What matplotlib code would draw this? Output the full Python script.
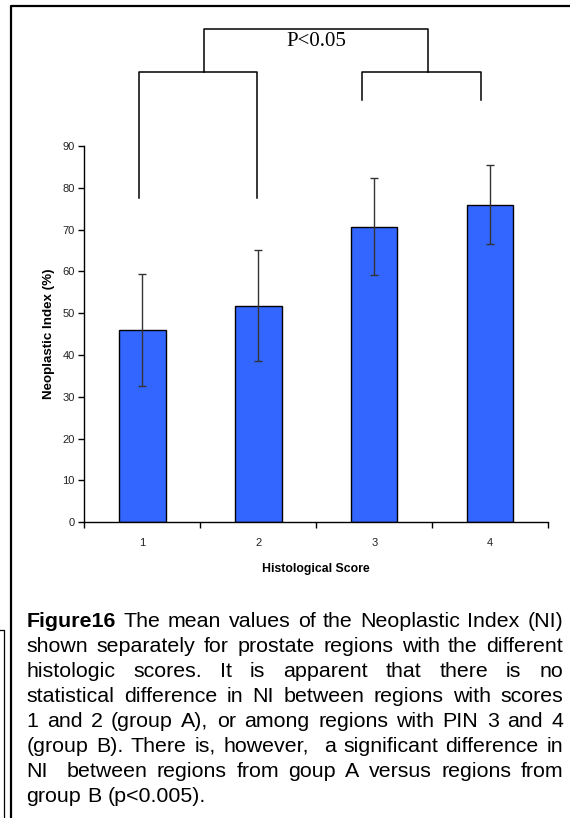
# Neoplastic Index bar chart with group brackets and caption (Figure16)
import numpy as np
import matplotlib.pyplot as plt

plt.rcParams['font.family'] = ['Liberation Sans', 'DejaVu Sans']

# data
scores = ['1', '2', '3', '4']
ni_mean = [46.0, 51.8, 70.7, 76.0]
ni_err = [13.3, 13.3, 11.6, 9.4]

# significance brackets (data units)
group_a = (0.97, 1.99)
group_b = (2.89, 3.92)
group_a_drop = 77.5
group_b_drop = 101.0
bracket_y = 107.8
top_bracket = (1.535, 3.46)
top_y = 117.9
p_label = 'P<0.05'

caption = [
    'Figure16 The mean values of the Neoplastic Index (NI)',
    'shown separately for prostate regions with the different',
    'histologic scores. It is apparent that there is no',
    'statistical difference in NI between regions with scores',
    '1 and 2 (group A), or among regions with PIN 3 and 4',
    '(group B). There is, however,  a significant difference in',
    'NI  between regions from goup A versus regions from',
    'group B (p<0.005).',
]

W, H = 570, 818
fig = plt.figure(figsize=(W / 100, H / 100), dpi=100)
fig.patch.set_facecolor('white')

ax = fig.add_axes([84.3 / W, 1 - 522.3 / H, 464 / W, 376.3 / H])
x = np.arange(1, len(scores) + 1)
ax.bar(x, ni_mean, width=0.4, color='#3366FF', edgecolor='black', linewidth=1.0, zorder=2)
ax.errorbar(x, ni_mean, yerr=ni_err, fmt='none', ecolor='#333333', elinewidth=1.0,
            capsize=2.8, capthick=1.0, zorder=3)

ax.set_xlim(0.5, len(scores) + 0.5)
ax.set_ylim(0, 90)
ax.set_yticks(np.arange(0, 91, 10))
ax.set_xticks(np.arange(0.5, len(scores) + 1, 1))
ax.set_xticklabels([])
ax.set_xticks(x, minor=True)
ax.set_xticklabels(scores, minor=True)
ax.tick_params(axis='x', which='minor', length=0, pad=11, labelsize=8, colors='#222222')
ax.tick_params(axis='x', which='major', length=4, width=1, direction='out')
ax.tick_params(axis='y', length=4, width=1, direction='out', labelsize=8, pad=3,
               labelcolor='#222222')
for s in ['top', 'right']:
    ax.spines[s].set_visible(False)
for s in ['left', 'bottom']:
    ax.spines[s].set_linewidth(1.0)
ax.set_xlabel('Histological Score', fontsize=8.8, fontweight='bold', labelpad=11)
ax.set_ylabel('Neoplastic Index (%)', fontsize=9.6, fontweight='bold', labelpad=5)

# brackets
lk = dict(color='black', lw=1.1, clip_on=False)
ax.plot([group_a[0], group_a[0], group_a[1], group_a[1]],
        [group_a_drop, bracket_y, bracket_y, group_a_drop], **lk)
ax.plot([group_b[0], group_b[0], group_b[1], group_b[1]],
        [group_b_drop, bracket_y, bracket_y, group_b_drop], **lk)
ax.plot([top_bracket[0], top_bracket[0], top_bracket[1], top_bracket[1]],
        [bracket_y, top_y, top_y, bracket_y], **lk)
ax.text(sum(top_bracket) / 2, top_y - 0.6, p_label, ha='center', va='top',
        fontsize=15, family='Liberation Serif', clip_on=False)

# frame around the figure
fig.add_artist(plt.Line2D([11 / W, 11 / W, 1.01], [0, 1 - 5.5 / H, 1 - 5.5 / H],
                          transform=fig.transFigure, color='black', lw=1.6))
fig.add_artist(plt.Line2D([0, 3.5 / W, 3.5 / W], [1 - 630 / H, 1 - 630 / H, 0],
                          transform=fig.transFigure, color='black', lw=0.9))

# justified caption
fig.canvas.draw()
renderer = fig.canvas.get_renderer()
fs = 15.4
left, right = 26.5, 563
base0, step = 627, 25.0

sp1 = fig.text(0, 0, 'a a', fontsize=fs)
sp2 = fig.text(0, 0, 'aa', fontsize=fs)
space_w = sp1.get_window_extent(renderer).width - sp2.get_window_extent(renderer).width
sp1.remove()
sp2.remove()

for i, line in enumerate(caption):
    words = line.split(' ')
    y = 1 - (base0 + i * step) / H
    texts = []
    for j, w in enumerate(words):
        weight = 'bold' if (i == 0 and j == 0) else 'normal'
        t = fig.text(0, y, w, fontsize=fs, fontweight=weight, va='baseline', ha='left')
        texts.append(t)
    widths = [t.get_window_extent(renderer).width if t.get_text() else 0 for t in texts]
    if i < len(caption) - 1:
        gap = (right - left - sum(widths)) / (len(words) - 1)
    else:
        gap = space_w
    xp = left
    for t, wd in zip(texts, widths):
        t.set_x(xp / W)
        xp += wd + gap

fig.savefig('out.png', dpi=100, facecolor='white')
